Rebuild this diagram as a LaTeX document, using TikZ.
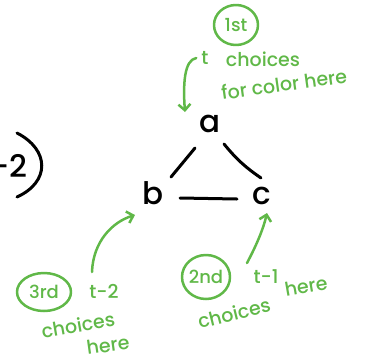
\documentclass[tikz,border=0pt]{standalone}
\usepackage{fontspec}
\setmainfont{Poppins}[UprightFont=* Medium]
\usetikzlibrary{arrows.meta,shapes.geometric}
\definecolor{handgreen}{RGB}{96,184,72}
\begin{document}
\begin{tikzpicture}[x=1pt,y=-1pt,
  ink/.style={line width=3pt,line cap=round},
  letter/.style={font=\fontsize{31}{31}\selectfont,inner sep=0pt},
  hand/.style={text=handgreen,font=\fontsize{19}{19}\selectfont,inner sep=0pt},
  small/.style={text=handgreen,font=\fontsize{18}{18}\selectfont,inner sep=0pt},
  greenline/.style={draw=handgreen,line width=2.5pt,line cap=round,line join=round},
  barb/.style={-{Straight Barb[length=6pt,width=12pt,line width=2.5pt]}},
  ring/.style={ellipse,greenline,inner sep=0pt}]
\useasboundingbox (0,0) rectangle (366,362);

% the triangle graph
\node[letter] (a) at (210,124) {a};
\node[letter] (b) at (153,193) {b};
\node[letter] (c) at (262,196) {c};
\draw[ink] ([shift={(-15,24)}]a.center) -- ([shift={(18,-16)}]b.center);
\draw[ink] ([shift={(14,20)}]a.center) to[bend right=8] ([shift={(-1,-18)}]c.center);
\draw[ink] ([shift={(27,5)}]b.center) -- ([shift={(-25,3)}]c.center);

% closing part of the previous expression
\node[letter, anchor=east] (prev) at (28,166) {-2};
\draw[ink] (17,133) .. controls (50,150) and (50,182) .. (17,197);

% order of colouring: first a
\node[ring, minimum width=44, minimum height=40] (first) at (236,25) {};
\node[small] (firstlbl) at (first.center) {1st};
\node[hand] (ta) at (205,58) {t};
\node[hand] (cha) at (263,59) {choices};
\node[hand, rotate=8] (fora) at (284,84) {for color here};
\coordinate (aend) at ([shift={(-25,-12)}]a.center);
\draw[greenline, barb] ([xshift=-5]ta.west) .. controls (184,60) and (183,85) .. (aend);

% then c
\node[ring, minimum width=48, minimum height=44] (second) at (206,277) {};
\node[small] (secondlbl) at (second.center) {2nd};
\node[hand] (tc) at (266,277) {t-1};
\node[hand, rotate=10] (herec) at (306,286) {here};
\node[hand, rotate=14] (chc) at (234,313) {choices};
\coordinate (cend) at ([shift={(5,17)}]c.center);
\draw[greenline, barb] ([shift={(-19,-14)}]tc.center) .. controls (256,246) and (263,230) .. (cend);

% then b
\node[ring, minimum width=54, minimum height=38] (third) at (44,292) {};
\node[small] (thirdlbl) at (third.center) {3rd};
\node[hand] (tb) at (104,291) {t-2};
\node[hand, rotate=10] (chb) at (78,325) {choices};
\node[hand, rotate=8] (hereb) at (108,345) {here};
\coordinate (bend) at ([shift={(-18,22)}]b.center);
\draw[greenline, barb] ([shift={(-12,-19)}]tb.center) .. controls (93,242) and (112,222) .. (bend);
\end{tikzpicture}
\end{document}
